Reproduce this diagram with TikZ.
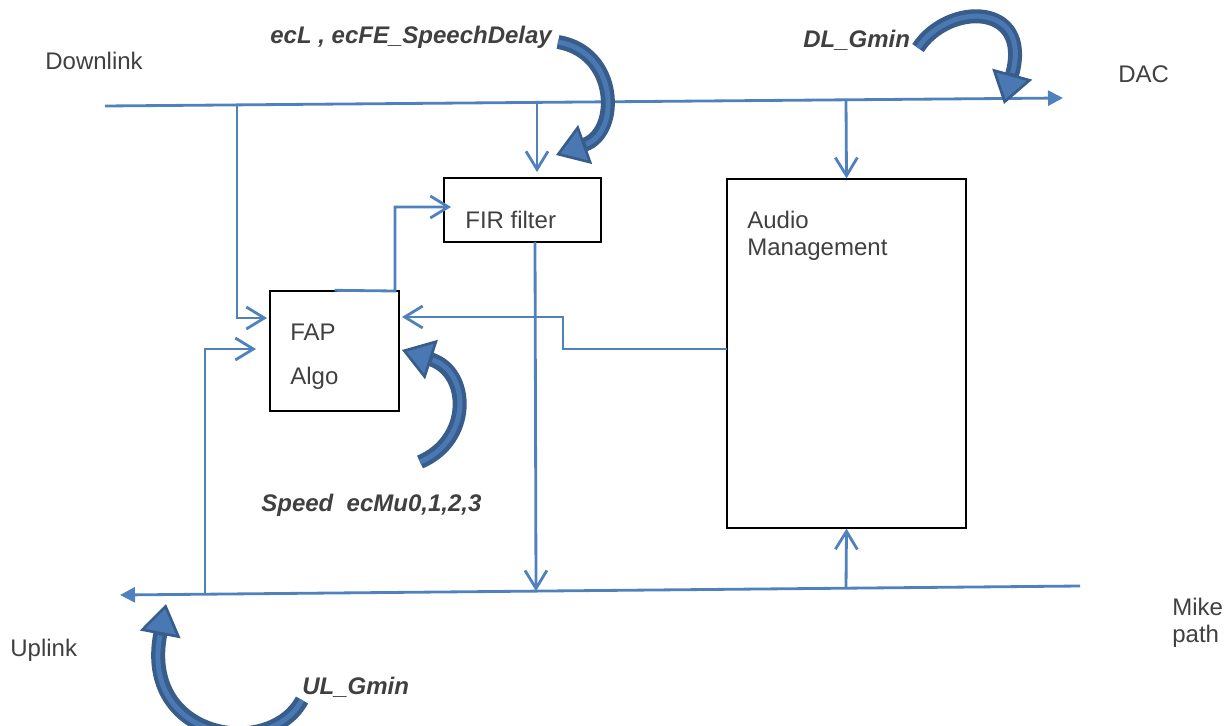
\documentclass[tikz,border=0pt]{standalone}
\usepackage{fontspec}
\setmainfont{Liberation Sans}
\usetikzlibrary{arrows.meta}
\definecolor{linkblue}{HTML}{4F81BD}
\definecolor{bigdark}{HTML}{385D8A}
\definecolor{bigmid}{HTML}{4A78B2}
\definecolor{txtgray}{HTML}{404040}
\begin{document}
\begin{tikzpicture}[x=0.02cm,y=-0.02cm,
  box/.style={draw=black,line width=0.8pt,inner sep=0pt},
  lnk/.style={draw=linkblue,line width=1.6pt},
  opn/.style={-{Straight Barb[length=0.36cm,width=0.44cm,line width=1.6pt]}},
  fil/.style={-{Triangle[length=0.3cm,width=0.3cm]}},
  bigarr/.style={draw=bigdark,line width=0.28cm,
    -{Triangle[length=0.62cm,width=0.82cm,line width=1.5pt,fill=bigmid]},
    postaction={draw=bigmid,line width=0.1cm,-,shorten >=0.64cm}},
  lbl/.style={inner sep=0pt,text=txtgray,font=\fontsize{13.66}{15.4}\selectfont},
  blbl/.style={inner sep=0pt,text=txtgray,font=\fontsize{13.66}{15.4}\selectfont\bfseries\itshape}]
\useasboundingbox (0,0) rectangle (1226,726);

% boxes
\node[box,minimum width=2.58cm,minimum height=2.4cm] (FAP) at (334.5,351) {};
\node[box,minimum width=3.14cm,minimum height=1.28cm] (FIR) at (522.5,210) {};
\node[box,minimum width=4.78cm,minimum height=6.98cm] (AM) at (846.5,353.5) {};

% texts
\node[lbl,anchor=west] (tDown) at (45,61) {Downlink};
\node[lbl,anchor=west] (tDAC) at (1118,74) {DAC};
\node[lbl,anchor=west] (tUp) at (10,650) {Uplink};
\node[lbl,anchor=west,align=left] (tMike) at (1172,623) {Mike\\path};
\node[lbl,anchor=west,align=left] (tAM) at (747,236) {Audio\\Management};
\node[lbl,anchor=west] (tFIR) at (465,220) {FIR filter};
\node[lbl,anchor=west,align=left] (tFAP) at (290,357) {FAP\\[9.7pt]Algo};
\node[blbl,anchor=west] (tEc) at (270,37) {ecL , ecFE\_SpeechDelay};
\node[blbl,anchor=west] (tDL) at (803,40) {DL\_Gmin};
\node[blbl,anchor=west] (tSp) at (261,505) {Speed~~ecMu0,1,2,3};
\node[blbl,anchor=west] (tUL) at (302,687) {UL\_Gmin};

% main lines
\coordinate (dlS) at (105,106);
\coordinate (dlE) at (1063,98);
\coordinate (ulS) at (1080,586);
\coordinate (ulE) at (120,595);
\coordinate (d1) at (237,104.9);
\coordinate (d2) at (537,102.4);
\coordinate (d3) at (846,99.8);
\coordinate (u1) at (205,594.2);
\coordinate (u2) at (536,591.1);
\coordinate (u3) at (846,588.2);
\draw[lnk,fil] (dlS) -- (dlE);
\draw[lnk,fil] (ulS) -- (ulE);

% connectors
\coordinate (fapIn1) at (267,318);
\coordinate (fapIn2) at (256,349);
\coordinate (fapIn3) at (402,317);
\coordinate (firIn) at (537,172);
\coordinate (firIn2) at (451,207);
\coordinate (c1) at (395,291);
\coordinate (firOut) at (535,242);
\coordinate (amOut) at (727,349);
\coordinate (c2) at (563,349);
\draw[lnk,opn] (d1) |- (fapIn1);
\draw[lnk,opn] (u1) |- (fapIn2);
\draw[lnk,opn] (d2) -- (firIn);
\draw[lnk,opn] (FAP.north) -- (c1) |- (firIn2);
\draw[lnk,opn] (firOut) -- (u2);
\draw[lnk,opn] (d3) -- (AM.north);
\draw[lnk,opn] (u3) -- (AM.south);
\draw[lnk,opn] (amOut) -- (c2) |- (fapIn3);

% big curved arrows
\draw[bigarr] (558,42) .. controls (618,52) and (620,132) .. (556,155);
\draw[bigarr] (918,48) .. controls (948,2) and (1032,2) .. (1004,104);
\draw[bigarr] (420,462) .. controls (472,440) and (470,372) .. (402,350);
\draw[bigarr] (302,700) .. controls (270,760) and (140,740) .. (166,604);
\end{tikzpicture}
\end{document}
